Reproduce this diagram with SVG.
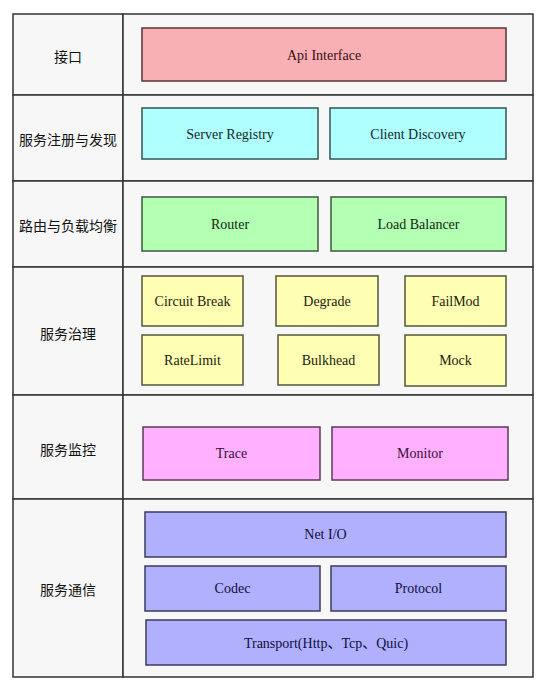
<svg xmlns="http://www.w3.org/2000/svg" width="544" height="698" viewBox="0 0 544 698">
<style>
.cell{fill:#f7f7f7;stroke:#333;stroke-width:1.5}
.lbl{font-family:"Noto Sans CJK SC","Liberation Serif",serif;font-size:14px;fill:#111;text-anchor:middle;dominant-baseline:central}
.t{font-family:"Liberation Serif",serif;font-size:14px;text-anchor:middle;dominant-baseline:central}
.pink rect{fill:#f8b0b5;stroke:#5a3538;stroke-width:1.5}
.pink text{fill:#3a0f12}
.cyan rect{fill:#b0ffff;stroke:#335555;stroke-width:1.5}
.cyan text{fill:#0f2a2a}
.green rect{fill:#b3ffb3;stroke:#3b5a3b;stroke-width:1.5}
.green text{fill:#0f2a0f}
.yellow rect{fill:#ffffb3;stroke:#55553b;stroke-width:1.5}
.yellow text{fill:#222210}
.mag rect{fill:#ffb0ff;stroke:#5a3b5a;stroke-width:1.5}
.mag text{fill:#3a0f3a}
.blue rect{fill:#b0b0ff;stroke:#3b3b5a;stroke-width:1.5}
.blue text{fill:#0f0f3a}
</style>
<rect width="544" height="698" fill="#ffffff"/>
<g id="table">
<rect class="cell" x="13" y="14" width="110" height="81"/>
<rect class="cell" x="123" y="14" width="410" height="81"/>
<rect class="cell" x="13" y="95" width="110" height="86"/>
<rect class="cell" x="123" y="95" width="410" height="86"/>
<rect class="cell" x="13" y="181" width="110" height="86"/>
<rect class="cell" x="123" y="181" width="410" height="86"/>
<rect class="cell" x="13" y="267" width="110" height="128"/>
<rect class="cell" x="123" y="267" width="410" height="128"/>
<rect class="cell" x="13" y="395" width="110" height="104"/>
<rect class="cell" x="123" y="395" width="410" height="104"/>
<rect class="cell" x="13" y="499" width="110" height="178"/>
<rect class="cell" x="123" y="499" width="410" height="178"/>
<text class="lbl" x="68" y="56">接口</text>
<text class="lbl" x="68" y="139">服务注册与发现</text>
<text class="lbl" x="68" y="225">路由与负载均衡</text>
<text class="lbl" x="68" y="333">服务治理</text>
<text class="lbl" x="68" y="449">服务监控</text>
<text class="lbl" x="68" y="589">服务通信</text>
</g>
<g id="connectors"></g>
<g id="api" class="pink"><rect x="142" y="28" width="364" height="53"/><text class="t" x="324" y="55">Api Interface</text></g>
<g id="server-registry" class="cyan"><rect x="142" y="108" width="176" height="51"/><text class="t" x="230" y="134">Server Registry</text></g>
<g id="client-discovery" class="cyan"><rect x="330" y="108" width="176" height="51"/><text class="t" x="418" y="134">Client Discovery</text></g>
<g id="router" class="green"><rect x="142" y="197" width="176" height="54"/><text class="t" x="230" y="224">Router</text></g>
<g id="load-balancer" class="green"><rect x="331" y="197" width="175" height="54"/><text class="t" x="418.5" y="224">Load Balancer</text></g>
<g id="circuit-break" class="yellow"><rect x="142" y="276" width="101" height="50"/><text class="t" x="192.5" y="301">Circuit Break</text></g>
<g id="degrade" class="yellow"><rect x="276" y="276" width="102" height="50"/><text class="t" x="327" y="301">Degrade</text></g>
<g id="failmod" class="yellow"><rect x="405" y="276" width="101" height="50"/><text class="t" x="455.5" y="301">FailMod</text></g>
<g id="ratelimit" class="yellow"><rect x="142" y="335" width="101" height="50"/><text class="t" x="192.5" y="360">RateLimit</text></g>
<g id="bulkhead" class="yellow"><rect x="278" y="335" width="101" height="50"/><text class="t" x="328.5" y="360">Bulkhead</text></g>
<g id="mock" class="yellow"><rect x="405" y="335" width="101" height="51"/><text class="t" x="455.5" y="360">Mock</text></g>
<g id="trace" class="mag"><rect x="143" y="427" width="177" height="53"/><text class="t" x="231.5" y="453">Trace</text></g>
<g id="monitor" class="mag"><rect x="332" y="427" width="176" height="53"/><text class="t" x="420" y="453">Monitor</text></g>
<g id="netio" class="blue"><rect x="145" y="512" width="361" height="45"/><text class="t" x="325.5" y="534">Net I/O</text></g>
<g id="codec" class="blue"><rect x="145" y="566" width="175" height="45"/><text class="t" x="232.5" y="588">Codec</text></g>
<g id="protocol" class="blue"><rect x="331" y="566" width="175" height="45"/><text class="t" x="418.5" y="588">Protocol</text></g>
<g id="transport" class="blue"><rect x="146" y="620" width="360" height="45"/><text class="t" x="326" y="643" style="font-family:'Liberation Serif','Noto Sans CJK SC',serif">Transport(Http、Tcp、Quic)</text></g>
</svg>
